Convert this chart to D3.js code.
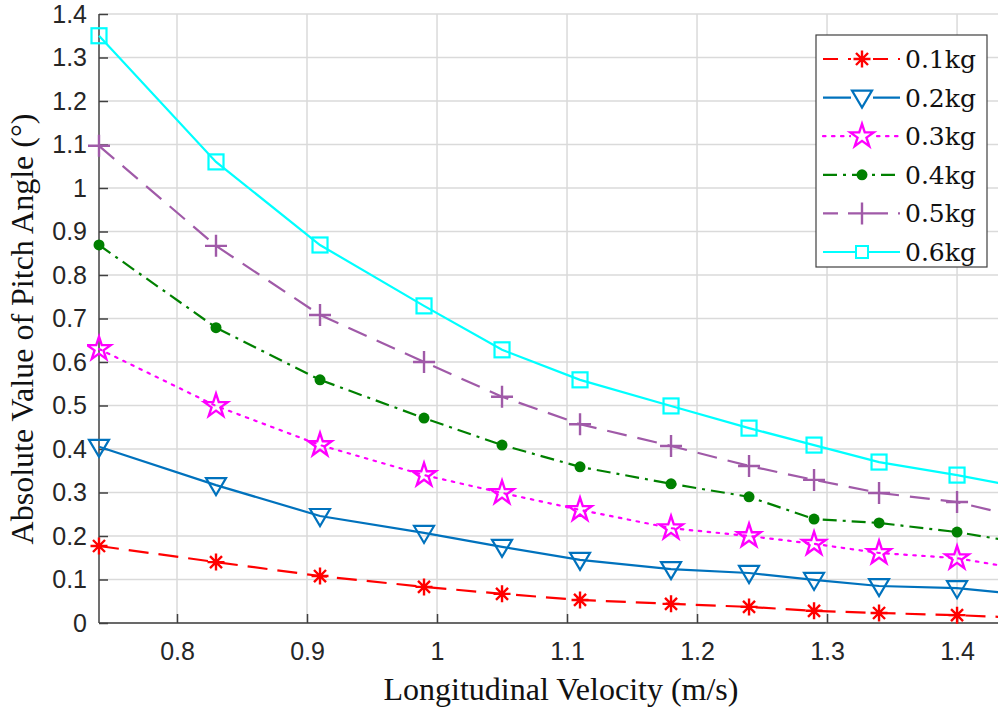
<!DOCTYPE html>
<html>
<head>
<meta charset="utf-8">
<script src="https://cdn.jsdelivr.net/npm/d3@7"></script>
<style>
  body { margin: 0; background: #fff; }
  svg { display: block; }
</style>
</head>
<body>
<div id="chart"></div>
<script>
(function () {

  // Data
  const velocity = [0.74, 0.83, 0.91, 0.99, 1.05, 1.11, 1.18, 1.24, 1.29, 1.34, 1.40, 1.45]
  const kg01 = [0.177, 0.140, 0.108, 0.083, 0.067, 0.053, 0.044, 0.037, 0.028, 0.023, 0.018, 0.012]
  const kg02 = [0.405, 0.317, 0.246, 0.207, 0.175, 0.145, 0.124, 0.115, 0.099, 0.085, 0.080, 0.066]
  const kg03 = [0.630, 0.499, 0.409, 0.340, 0.299, 0.260, 0.218, 0.200, 0.182, 0.161, 0.149, 0.124]
  const kg04 = [0.869, 0.679, 0.559, 0.471, 0.409, 0.359, 0.320, 0.290, 0.239, 0.230, 0.209, 0.184]
  const kg05 = [1.097, 0.867, 0.708, 0.600, 0.520, 0.457, 0.407, 0.361, 0.329, 0.299, 0.278, 0.242]
  const kg06 = [1.350, 1.060, 0.869, 0.729, 0.628, 0.559, 0.499, 0.448, 0.409, 0.370, 0.340, 0.312]
  const seriesNames = ["0.1kg", "0.2kg", "0.3kg", "0.4kg", "0.5kg", "0.6kg"]
  const xTicks = [0.8, 0.9, 1, 1.1, 1.2, 1.3, 1.4]
  const yTicks = [0, 0.1, 0.2, 0.3, 0.4, 0.5, 0.6, 0.7, 0.8, 0.9, 1, 1.1, 1.2, 1.3, 1.4]

  const allValues = [kg01, kg02, kg03, kg04, kg05, kg06]

  // Styles per series
  const styles = [
    { color: "#ff0000", dash: "20,10", marker: "asterisk" },
    { color: "#0072bd", dash: null, marker: "triangleDown" },
    { color: "#ff00ff", dash: "2.5,6.5", marker: "star" },
    { color: "#008000", dash: "14,6,3,6", marker: "dot" },
    { color: "#a05aa8", dash: "20,11", marker: "plus" },
    { color: "#00ffff", dash: null, marker: "square" }
  ]

  // Margin convention
  const margin = { top: 14, right: 1, bottom: 90, left: 99 }
  const width = 999 - margin.left - margin.right
  const height = 713 - margin.top - margin.bottom

  const svg = d3.select("#chart").append("svg")
      .attr("width", width + margin.left + margin.right)
      .attr("height", height + margin.top + margin.bottom)
      .append("g")
      .attr("transform", "translate(" + margin.left + "," + margin.top + ")")

  const x = d3.scaleLinear().domain([0.74, 1.4315]).range([0, width])
  const y = d3.scaleLinear().domain([0, 1.4]).range([height, 0])

  svg.append("clipPath").attr("id", "plotclip")
    .append("rect").attr("x", -12).attr("y", -12).attr("width", width + 12).attr("height", height + 24)

  // Grid
  svg.append("g")
    .selectAll("line")
    .data(xTicks)
    .join("line")
    .attr("x1", d => x(d)).attr("x2", d => x(d))
    .attr("y1", 0).attr("y2", height)
    .attr("stroke", "#dadada").attr("stroke-width", 1.5)

  svg.append("g")
    .selectAll("line")
    .data(yTicks)
    .join("line")
    .attr("x1", 0).attr("x2", width)
    .attr("y1", d => y(d)).attr("y2", d => y(d))
    .attr("stroke", "#dadada").attr("stroke-width", 1.5)

  // Axes (MATLAB style, ticks inward)
  const xAxis = svg.append("g")
    .attr("transform", "translate(0," + height + ")")
    .call(d3.axisBottom(x).tickValues(xTicks).tickSize(-9).tickPadding(19).tickFormat(d3.format("")))
  const yAxis = svg.append("g")
    .call(d3.axisLeft(y).tickValues(yTicks).tickSize(-9).tickPadding(12).tickFormat(d3.format("")))

  for (const ax of [xAxis, yAxis]) {
    ax.attr("font-size", null).attr("font-family", null)
    ax.select(".domain").attr("stroke", "#404040").attr("stroke-width", 1.5)
    ax.selectAll(".tick line").attr("stroke", "#404040").attr("stroke-width", 1.5)
    ax.selectAll(".tick text")
      .attr("fill", "#262626")
      .style("font-family", "'Liberation Sans', Arial, sans-serif")
      .style("font-size", "25px")
  }
  xAxis.select(".domain").attr("d", "M0,0H" + width)
  yAxis.select(".domain").attr("d", "M0," + height + "V0")

  // Marker shapes
  function drawMarker(g, type, color) {
    if (type === "asterisk") {
      const r = 8.5
      const d = r * 0.707
      g.append("path")
        .attr("d", `M${-r},0H${r}M0,${-r}V${r}M${-d},${-d}L${d},${d}M${-d},${d}L${d},${-d}`)
        .attr("stroke", color).attr("stroke-width", 2.4).attr("fill", "none")
    } else if (type === "triangleDown") {
      g.append("path")
        .attr("d", "M-10,-7L10,-7L0,10Z")
        .attr("stroke", color).attr("stroke-width", 2.2).attr("fill", "none")
    } else if (type === "star") {
      g.append("path")
        .attr("d", d3.symbol(d3.symbolStar, 170)())
        .attr("stroke", color).attr("stroke-width", 2.4).attr("fill", "none")
    } else if (type === "dot") {
      g.append("circle").attr("r", 5.5).attr("fill", color)
    } else if (type === "plus") {
      g.append("path")
        .attr("d", "M-11,0H11M0,-11V11")
        .attr("stroke", color).attr("stroke-width", 2.4)
    } else if (type === "square") {
      g.append("rect")
        .attr("x", -7.5).attr("y", -7.5).attr("width", 15).attr("height", 15)
        .attr("stroke", color).attr("stroke-width", 2.2).attr("fill", "none")
    }
  }

  const line = d3.line()
    .x((d, i) => x(velocity[i]))
    .y(d => y(d))

  const plot = svg.append("g").attr("clip-path", "url(#plotclip)")

  allValues.forEach((vals, s) => {
    const st = styles[s]
    plot.append("path")
      .datum(vals)
      .attr("d", line)
      .attr("fill", "none")
      .attr("stroke", st.color)
      .attr("stroke-width", 2.2)
      .attr("stroke-linecap", st.marker === "star" ? "round" : "butt")
      .attr("stroke-dasharray", st.dash)

    plot.selectAll(null)
      .data(vals)
      .join("g")
      .attr("transform", (d, i) => "translate(" + x(velocity[i]) + "," + y(d) + ")")
      .each(function () { drawMarker(d3.select(this), st.marker, st.color) })
  })

  // Axis labels
  svg.append("text")
    .attr("text-anchor", "middle")
    .attr("x", 561 - margin.left)
    .attr("y", 700 - margin.top)
    .style("font-family", "'Liberation Serif', 'Times New Roman', serif")
    .style("font-size", "32px")
    .attr("fill", "#111")
    .text("Longitudinal Velocity (m/s)")

  svg.append("text")
    .attr("text-anchor", "middle")
    .attr("transform", "translate(" + (33 - margin.left) + "," + (329 - margin.top) + ") rotate(-90)")
    .style("font-family", "'Liberation Serif', 'Times New Roman', serif")
    .style("font-size", "32px")
    .attr("fill", "#111")
    .text("Absolute Value of Pitch Angle (°)")

  // Legend
  const legend = svg.append("g")
    .attr("transform", "translate(" + (816 - margin.left) + "," + (35 - margin.top) + ")")

  legend.append("rect")
    .attr("width", 171).attr("height", 232)
    .attr("fill", "#fff").attr("stroke", "#404040").attr("stroke-width", 1.2)

  seriesNames.forEach((name, s) => {
    const st = styles[s]
    const row = legend.append("g").attr("transform", "translate(0," + (24 + s * 38.6) + ")")
    row.append("line")
      .attr("x1", 7).attr("x2", 84).attr("y1", 0).attr("y2", 0)
      .attr("stroke", st.color).attr("stroke-width", 2.2)
      .attr("stroke-linecap", st.marker === "star" ? "round" : "butt")
      .attr("stroke-dasharray", st.dash === "20,10" || st.dash === "20,11" ? "15,10" : st.dash)
    const m = row.append("g").attr("transform", "translate(46,0)")
    if (st.marker === "square") {
      m.append("rect").attr("x", -6).attr("y", -6).attr("width", 12).attr("height", 12)
        .attr("fill", "#fff").attr("stroke", st.color).attr("stroke-width", 2)
    } else {
      if (st.marker !== "dot") {
        m.append("rect").attr("x", -11).attr("y", -11).attr("width", 22).attr("height", 22).attr("fill", "#fff")
      }
      drawMarker(m, st.marker, st.color)
    }
    row.append("text")
      .attr("x", 89).attr("y", 9)
      .style("font-family", "'DejaVu Serif', 'Liberation Serif', serif")
      .style("font-size", "25px")
      .attr("fill", "#111")
      .text(name)
  })

})();
</script>
</body>
</html>
